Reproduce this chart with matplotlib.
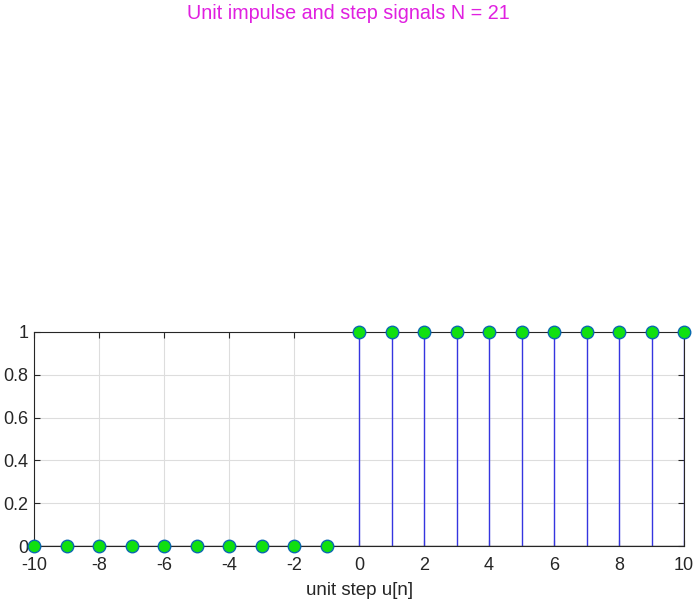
import numpy as np
import matplotlib.pyplot as plt

# ----------------------------
# Data
# ----------------------------
N = 21
n = [-10, -9, -8, -7, -6, -5, -4, -3, -2, -1, 0, 1, 2, 3, 4, 5, 6, 7, 8, 9, 10]
u = [0, 0, 0, 0, 0, 0, 0, 0, 0, 0, 1, 1, 1, 1, 1, 1, 1, 1, 1, 1, 1]
xticks = [-10, -8, -6, -4, -2, 0, 2, 4, 6, 8, 10]
yticks = [0, 0.2, 0.4, 0.6, 0.8, 1]

plt.rcParams.update({
    "font.family": ["Liberation Sans", "DejaVu Sans"],
    "font.size": 13,
    "axes.unicode_minus": False,
})

fig = plt.figure(figsize=(6.96, 6.03), dpi=100)
fig.suptitle(f"Unit impulse and step signals N = {N}", color="#E020E0",
             fontsize=14.2, y=0.993, va="top")

ax = fig.add_axes([0.0489, 0.0945, 0.934, 0.355])

markers, stems, base = ax.stem(n, u)
plt.setp(stems, color="#3535E0", linewidth=1.0)
plt.setp(markers, markerfacecolor="#10E010", markeredgecolor="#0A6AB0",
         markersize=9, markeredgewidth=1.0, zorder=3)
plt.setp(base, color="#333333", linewidth=1.0)
markers.set_clip_on(False)

ax.set_xlim(-10, 10)
ax.set_ylim(0, 1)
ax.set_xticks(xticks)
ax.set_yticks(yticks)
ax.set_yticklabels(["0", "0.2", "0.4", "0.6", "0.8", "1"])
ax.tick_params(direction="in", top=True, right=True, labelsize=13,
               colors="#262626", length=4)
ax.tick_params(axis="x", pad=8)
ax.tick_params(axis="y", pad=4)
for s in ax.spines.values():
    s.set_color("#262626")
    s.set_linewidth(0.8)
ax.grid(True, color="#DDDDDD", linewidth=0.8)
ax.set_axisbelow(True)
ax.set_xlabel("unit step u[n]", fontsize=13.5, color="#262626", labelpad=6)

plt.savefig("out.png", dpi=100)
